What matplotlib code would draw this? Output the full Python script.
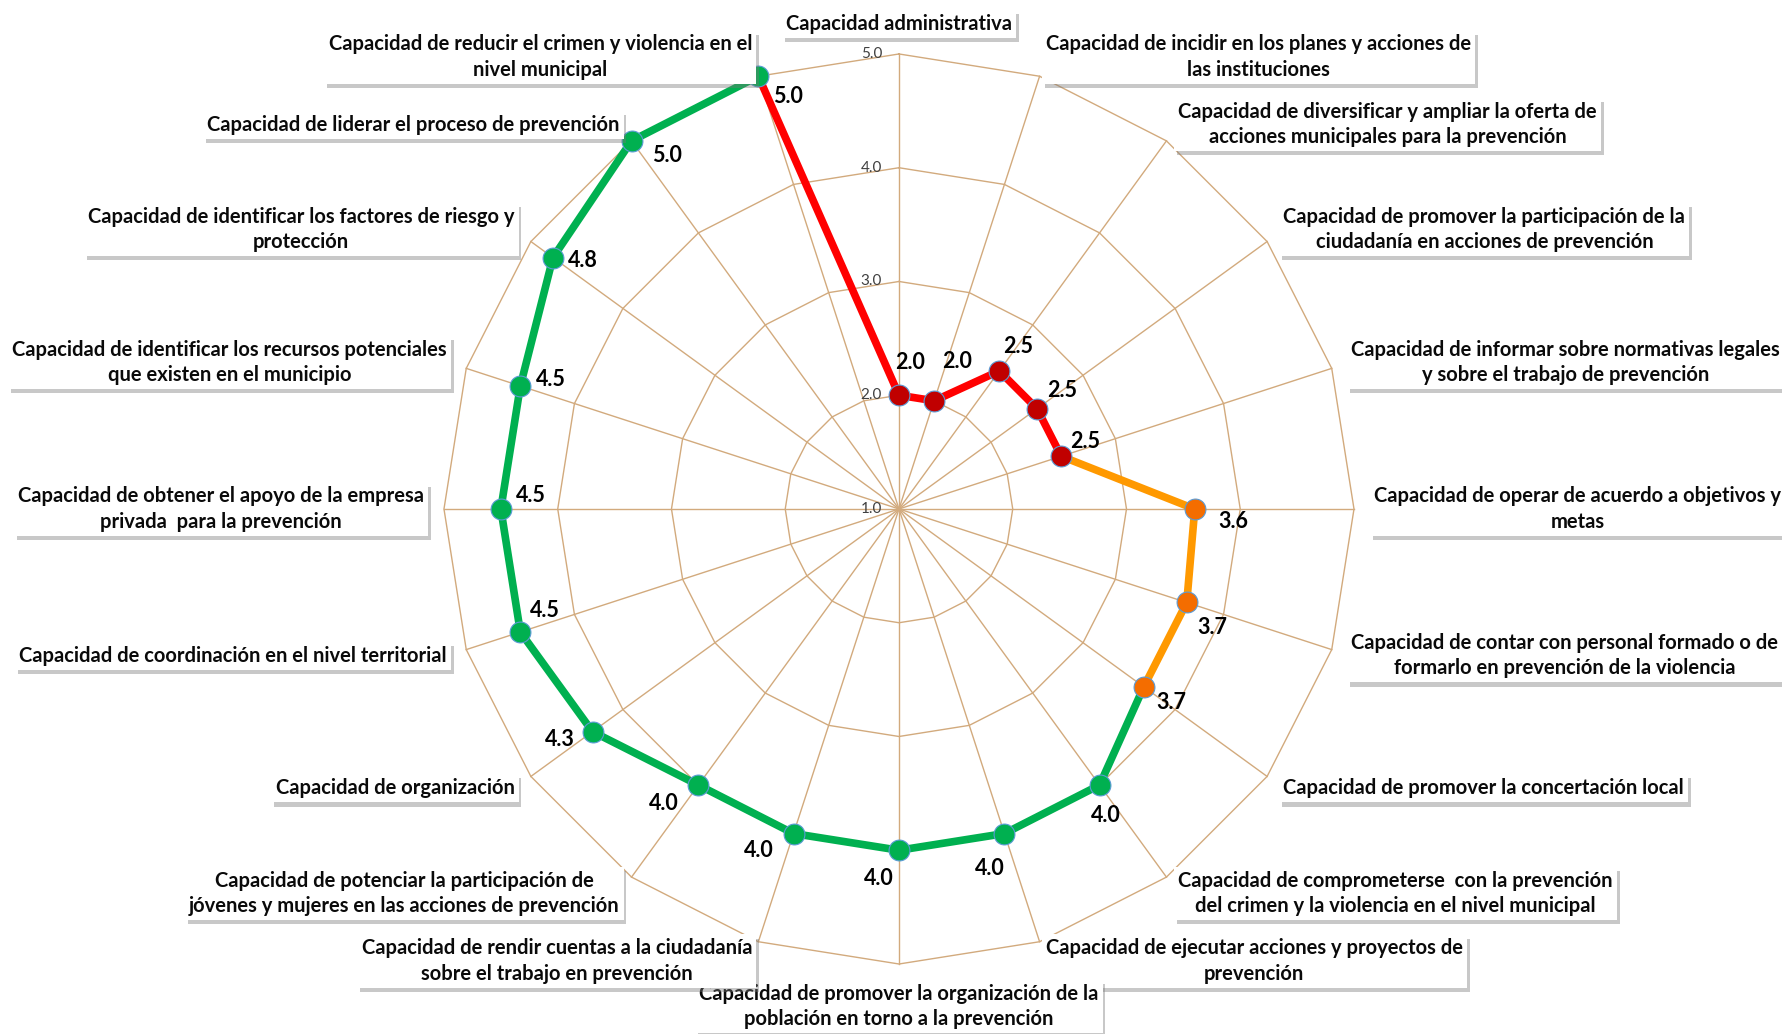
import numpy as np
import matplotlib
matplotlib.use('Agg')
import matplotlib.pyplot as plt
import matplotlib.patheffects as pe

# categorias en sentido horario, empezando arriba
categorias = [
    'Capacidad administrativa',
    'Capacidad de incidir en los planes y acciones de\nlas instituciones',
    'Capacidad de diversificar y ampliar la oferta de\nacciones municipales para la prevención',
    'Capacidad de promover la participación de la\nciudadanía en acciones de prevención',
    'Capacidad de informar sobre normativas legales\ny sobre el trabajo de prevención',
    'Capacidad de operar de acuerdo a objetivos y\nmetas',
    'Capacidad de contar con personal formado o de\nformarlo en prevención de la violencia',
    'Capacidad de promover la concertación local',
    'Capacidad de comprometerse  con la prevención\ndel crimen y la violencia en el nivel municipal',
    'Capacidad de ejecutar acciones y proyectos de\nprevención',
    'Capacidad de promover la organización de la\npoblación en torno a la prevención',
    'Capacidad de rendir cuentas a la ciudadanía\nsobre el trabajo en prevención',
    'Capacidad de potenciar la participación de\njóvenes y mujeres en las acciones de prevención',
    'Capacidad de organización',
    'Capacidad de coordinación en el nivel territorial',
    'Capacidad de obtener el apoyo de la empresa\nprivada  para la prevención',
    'Capacidad de identificar los recursos potenciales\nque existen en el municipio',
    'Capacidad de identificar los factores de riesgo y\nprotección',
    'Capacidad de liderar el proceso de prevención',
    'Capacidad de reducir el crimen y violencia en el\nnivel municipal',
]

valores = [2.0, 2.0, 2.5, 2.5, 2.5, 3.6, 3.66, 3.66, 4.0, 4.0,
           4.0, 4.0, 4.0, 4.33, 4.5, 4.5, 4.5, 4.76, 5.0, 5.0]

escala = [1.0, 2.0, 3.0, 4.0, 5.0]

# tramos de color (indices de las categorias)
tramo_rojo = [19, 0, 1, 2, 3, 4]
tramo_naranja = [4, 5, 6, 7]
tramo_verde = list(range(7, 20))

col_rojo, col_naranja, col_verde = '#FF0000', '#FF9900', '#00B050'
marc_rojo, marc_naranja = '#C00000', '#F46D00'
col_grid = '#D2AA7D'

# desplazamiento de las etiquetas de valor (pixeles, y hacia abajo)
desp = [(11, -33), (23, -39), (19, -24), (25, -18), (24, -15), (39, 13), (26, 25),
        (28, 16), (6, 30), (-15, 35), (-20, 28), (-35, 17), (-35, 18), (-33, 8),
        (25, -22), (30, -13), (31, -6), (30, 3), (35, 15), (30, 20)]

plt.rcParams['font.family'] = ['Lato', 'DejaVu Sans']

n = len(categorias)
theta = np.deg2rad(np.arange(n) * 360.0 / n)

fig = plt.figure(figsize=(17.83, 10.34), dpi=100)
ax = fig.add_axes([0.2490, 0.0677, 0.5104, 0.8801], projection='polar')
ax.set_theta_zero_location('N')
ax.set_theta_direction(-1)
ax.set_ylim(1, 5)
ax.grid(False)
ax.set_xticks([])
ax.set_yticks([])
ax.spines['polar'].set_visible(False)
ax.patch.set_alpha(0)

# rejilla poligonal
tc = np.append(theta, theta[0])
for r in escala[1:]:
    ax.plot(tc, [r] * (n + 1), color=col_grid, lw=1, zorder=1, clip_on=False)
for t in theta:
    ax.plot([t, t], [1, 5], color=col_grid, lw=1, zorder=1, clip_on=False)

for r in escala:
    ax.annotate(f'{r:.1f}', xy=(0, r), xytext=(-17, 0), textcoords='offset pixels',
                ha='right', va='center', fontsize=11, color='#404040', zorder=2)

v = np.array(valores)
for idx, c in [(tramo_verde, col_verde), (tramo_naranja, col_naranja), (tramo_rojo, col_rojo)]:
    ax.plot(theta[idx], v[idx], color=c, lw=5.5, solid_capstyle='round', zorder=3,
            clip_on=False)

marc = [marc_rojo] * 5 + [marc_naranja] * 3 + [col_verde] * 12
for i in range(n):
    ax.plot(theta[i], v[i], 'o', ms=15, mfc=marc[i], mec='#5B9BD5', mew=0.8, zorder=4,
            clip_on=False)
    dx, dy = desp[i]
    ax.annotate(f'{valores[i]:.1f}', xy=(theta[i], v[i]), xytext=(dx, -dy),
                textcoords='offset pixels', ha='center', va='center',
                fontsize=15.5, fontweight='bold', color='black', zorder=5)

# etiquetas de categoria con caja y sombra
r_lab = 1 + 475 / 113.7
for i in range(n):
    s = np.sin(theta[i])
    ha = 'center' if abs(s) < 0.01 else ('left' if s > 0 else 'right')
    va = 'bottom' if i == 0 else ('top' if i == n // 2 else 'center')
    t = ax.text(theta[i], r_lab, categorias[i], ha=ha, va=va, ma='center',
                fontsize=14.5, fontweight='bold', color='#0A0A0A', linespacing=1.32,
                bbox=dict(boxstyle='square,pad=0.2', fc='white', ec='none'), zorder=6)
    t.get_bbox_patch().set_path_effects([
        pe.SimplePatchShadow(offset=(2, -3), shadow_rgbFace='#777777', alpha=0.4),
        pe.Normal()])

fig.savefig('out.png', dpi=100, facecolor='white')
